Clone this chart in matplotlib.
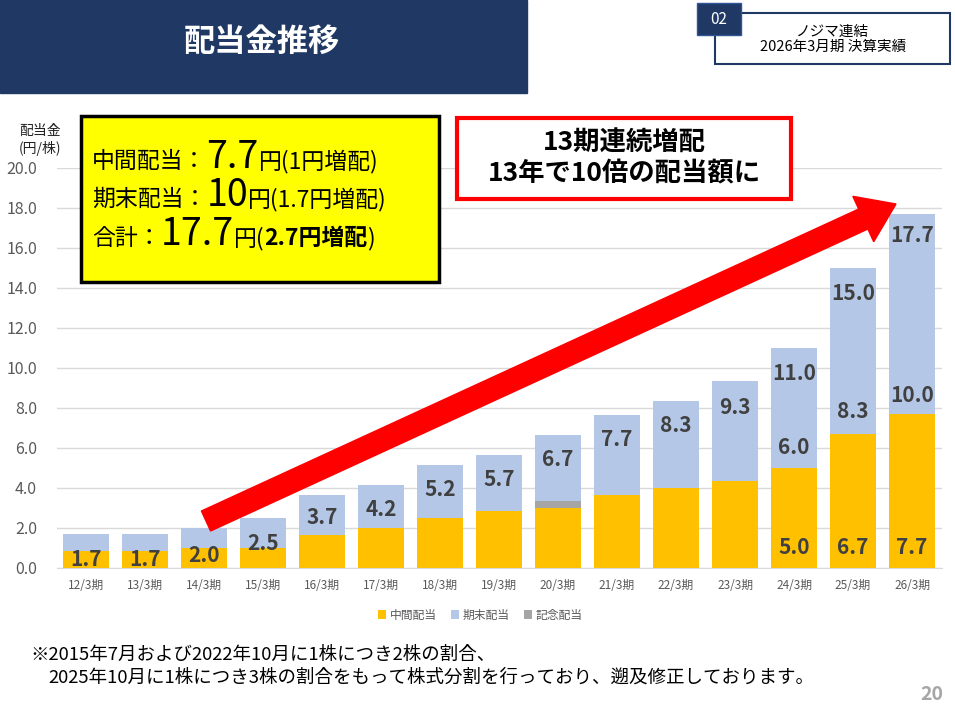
import matplotlib
matplotlib.use("Agg")
import matplotlib.pyplot as plt
from matplotlib.patches import Rectangle, FancyArrow

plt.rcParams['font.family'] = ['Noto Sans CJK JP', 'DejaVu Sans']

periods = ["12/3期","13/3期","14/3期","15/3期","16/3期","17/3期","18/3期","19/3期","20/3期",
           "21/3期","22/3期","23/3期","24/3期","25/3期","26/3期"]
interim = [0.85,0.85,1.0,1.0,1.67,2.0,2.5,2.83,3.0,3.67,4.0,4.33,5.0,6.7,7.7]
final   = [0.85,0.85,1.0,1.5,2.0,2.17,2.67,2.83,3.33,4.0,4.33,5.0,6.0,8.3,10.0]
commem  = [0,0,0,0,0,0,0,0,0.33,0,0,0,0,0,0]
totals  = ["1.7","1.7","2.0","2.5","3.7","4.2","5.2","5.7","6.7","7.7","8.3","9.3","11.0","15.0","17.7"]
total_y = [0.4,0.4,0.6,1.2,2.5,2.9,3.9,4.4,5.4,6.4,7.15,8.0,9.75,13.75,16.6]
# extra labels for last three periods: (index, interim label, final label, final label y)
extra = [(12,"5.0","6.0",6.0),(13,"6.7","8.3",7.8),(14,"7.7","10.0",8.65)]

W, H = 955, 716
fig = plt.figure(figsize=(W/100, H/100), dpi=100)
def fx(x): return x/W
def fy(y): return 1-y/H

ax = fig.add_axes([fx(56.5), fy(568), fx(941.5)-fx(56.5), fy(168)-fy(568)])
x = range(len(periods))
c_int, c_fin, c_com = "#FFC000", "#B4C7E7", "#A5A5A5"
ax.bar(x, interim, width=0.79, color=c_int, label="中間配当", zorder=2)
bot2 = [a+c for a, c in zip(interim, commem)]
ax.bar(x, commem, width=0.79, bottom=interim, color=c_com, zorder=2)
ax.bar(x, final, width=0.79, bottom=bot2, color=c_fin, label="期末配当", zorder=2)
ax.bar([0], [0], color=c_com, label="記念配当")
lab = dict(ha='center', va='center', fontsize=15, fontweight='bold', color='#404040', zorder=3)
for i in x:
    ax.text(i, total_y[i], totals[i], **lab)
for i, a, b, yb in extra:
    ax.text(i, 1.0, a, **lab)
    ax.text(i, yb, b, **lab)
ax.set_ylim(0, 20)
ax.set_xlim(-0.5, len(periods)-0.5)
ax.set_yticks([0,2,4,6,8,10,12,14,16,18,20])
ax.set_yticklabels([f"{v:.1f}" for v in ax.get_yticks()], fontsize=11.5, color='#595959')
ax.set_xticks(list(x))
ax.set_xticklabels(periods, fontsize=8.5, color='#595959')
ax.tick_params(length=0, pad=8)
ax.tick_params(axis='y', pad=14)
ax.grid(axis='y', color='#D9D9D9', lw=1, zorder=0)
for s in ax.spines.values(): s.set_visible(False)
ax.spines['bottom'].set_visible(True); ax.spines['bottom'].set_color('#D9D9D9')
ax.legend(loc='center', bbox_to_anchor=(fx(480), fy(615)), bbox_transform=fig.transFigure,
          ncol=3, frameon=False, fontsize=8.5, handlelength=0.7, handleheight=0.7,
          columnspacing=1.2, handletextpad=0.3, labelcolor='#595959')
fig.text(fx(40), fy(140), "配当金\n(円/株)", ha='center', va='center', fontsize=10, color='#222', linespacing=1.2)

# overlay in pixel coordinates
ov = fig.add_axes([0, 0, 1, 1], zorder=10)
ov.set_xlim(0, W); ov.set_ylim(H, 0); ov.axis('off')
ov.add_patch(FancyArrow(206, 521, 896-206, 204-521, width=22, head_width=50, head_length=36,
                        length_includes_head=True, color='#FF0000', zorder=4))

# header
fig.patches.append(Rectangle((0, fy(93)), fx(527), fy(0)-fy(93), transform=fig.transFigure, color='#1F3864'))
fig.text(fx(262), fy(42), "配当金推移", ha='center', va='center', fontsize=22.5, fontweight='bold', color='white')
fig.patches.append(Rectangle((fx(715), fy(64)), fx(950)-fx(715), fy(13)-fy(64), transform=fig.transFigure,
                             facecolor='white', edgecolor='#1F3864', lw=1.5))
fig.patches.append(Rectangle((fx(697), fy(35)), fx(741)-fx(697), fy(3)-fy(35), transform=fig.transFigure,
                             facecolor='#1F3864', edgecolor='#2F5597'))
fig.text(fx(719), fy(19), "02", ha='center', va='center', fontsize=11, color='white')
fig.text(fx(833), fy(39), "ノジマ連結\n2026年3月期 決算実績", ha='center', va='center', fontsize=10.5, linespacing=1.1)

# yellow box
fig.patches.append(Rectangle((fx(81), fy(282)), fx(439)-fx(81), fy(116)-fy(282), transform=fig.transFigure,
                             facecolor='#FFFF00', edgecolor='black', lw=2.5, zorder=5))
ybox = [("中間配当：", "7.7", "円(1円増配)", 168), ("期末配当：", "10", "円(1.7円増配)", 206), ("合計：", "17.7", "円(", 245)]
for a, b, c, yy in ybox:
    t = fig.text(fx(92), fy(yy), a, fontsize=16.5, va='baseline', zorder=6)
    fig.canvas.draw()
    ex = t.get_window_extent()
    t2 = fig.text(ex.x1/W, fy(yy), b, fontsize=27, va='baseline', zorder=6)
    fig.canvas.draw()
    ex2 = t2.get_window_extent()
    t3 = fig.text(ex2.x1/W, fy(yy), c, fontsize=16.5, va='baseline', zorder=6)
    if a == "合計：":
        fig.canvas.draw()
        ex3 = t3.get_window_extent()
        t4 = fig.text(ex3.x1/W, fy(yy), "2.7円増配", fontsize=16.5, fontweight='bold', va='baseline', zorder=6)
        fig.canvas.draw()
        ex4 = t4.get_window_extent()
        fig.text(ex4.x1/W, fy(yy), ")", fontsize=16.5, va='baseline', zorder=6)

# red box
fig.patches.append(Rectangle((fx(457), fy(199)), fx(791)-fx(457), fy(118)-fy(199), transform=fig.transFigure,
                             facecolor='white', edgecolor='#FF0000', lw=3, zorder=5))
fig.text(fx(624), fy(158), "13期連続増配\n13年で10倍の配当額に", ha='center', va='center', fontsize=19,
         fontweight='bold', zorder=6, linespacing=1.15)

fig.text(fx(30), fy(655), "※2015年7月および2022年10月に1株につき2株の割合、", fontsize=13.3, va='center')
fig.text(fx(48), fy(678), "2025年10月に1株につき3株の割合をもって株式分割を行っており、遡及修正しております。", fontsize=13.3, va='center')
fig.text(fx(932), fy(695), "20", fontsize=14, fontweight='bold', color='#A6A6A6', ha='center', va='center')

fig.savefig("out.png", dpi=100)
